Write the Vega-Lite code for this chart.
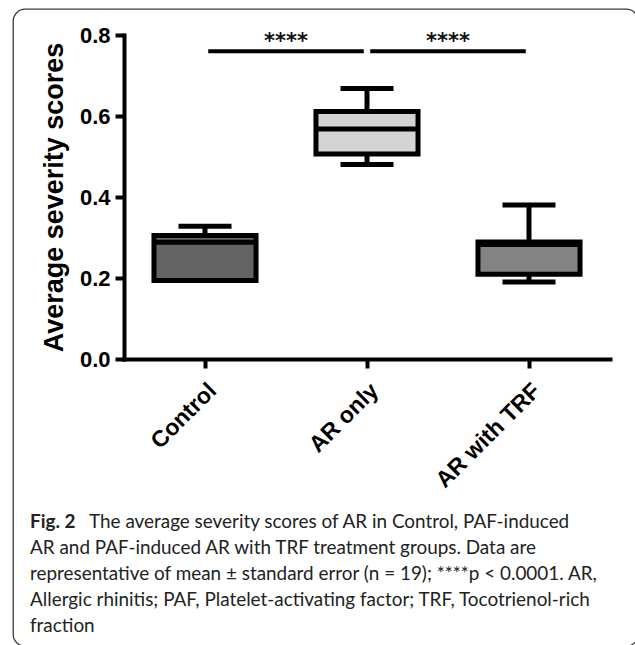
{
  "$schema": "https://vega.github.io/schema/vega-lite/v6.json",
  "width": 625,
  "height": 637,
  "autosize": "none",
  "padding": {"left": 13, "top": 9, "right": 0, "bottom": 0},
  "background": "white",
  "config": {
    "view": {"stroke": "#3a3a3a", "strokeWidth": 1.3, "cornerRadius": 12},
    "font": "Liberation Sans",
    "axis": {"grid": false, "domainColor": "black", "tickColor": "black", "labelColor": "black", "titleColor": "black", "labelFont": "Liberation Sans", "labelFontWeight": "bold", "titleFont": "Liberation Sans", "titleFontWeight": "bold"},
    "axisY": {"offset": -111, "domainWidth": 4, "tickWidth": 4, "tickSize": 9, "labelPadding": 5, "labelFontSize": 22, "titleFontSize": 27, "titlePadding": 11, "domainCap": "square"},
    "axisX": {"offset": -287, "domainWidth": 4, "tickWidth": 4, "tickSize": 9, "labelPadding": 11, "labelFontSize": 23, "labelAngle": -45, "labelAlign": "right", "labelBaseline": "top", "domainCap": "square"}
  },
  "title": {
    "text": "Fig. 2",
    "subtitle": [
      "\u200b\u2003\u2003\u2003\u2003\u2009The average severity scores of AR in Control, PAF-induced",
      "AR and PAF-induced AR with TRF treatment groups. Data are",
      "representative of mean ± standard error (n = 19); ****p < 0.0001. AR,",
      "Allergic rhinitis; PAF, Platelet-activating factor; TRF, Tocotrienol-rich",
      "fraction"
    ],
    "orient": "bottom",
    "anchor": "start",
    "frame": "group",
    "align": "left",
    "offset": -133,
    "dx": 17,
    "font": "Lato",
    "fontSize": 18.9,
    "fontWeight": "bold",
    "color": "#222222",
    "subtitleFont": "Lato",
    "subtitleFontSize": 18.9,
    "subtitleFontWeight": "normal",
    "subtitleColor": "#222222",
    "subtitleLineHeight": 26,
    "subtitlePadding": -18.9
  },
  "datasets": {
    "boxes": [
      {"group": "Control", "lo": 0.194, "q1": 0.194, "med": 0.288, "q3": 0.305, "hi": 0.328},
      {"group": "AR only", "lo": 0.48, "q1": 0.506, "med": 0.568, "q3": 0.611, "hi": 0.668},
      {"group": "AR with TRF", "lo": 0.19, "q1": 0.209, "med": 0.283, "q3": 0.289, "hi": 0.38}
    ],
    "sig": [
      {"from": "Control", "to": "AR only", "level": 0.76, "starLevel": 0.767, "label": "****"},
      {"from": "AR only", "to": "AR with TRF", "level": 0.76, "starLevel": 0.767, "label": "****"}
    ]
  },
  "layer": [
    {
      "data": {"name": "boxes"},
      "mark": {"type": "rule", "color": "black", "strokeWidth": 5},
      "encoding": {
        "x": {"field": "group", "type": "nominal", "title": null, "scale": {"domain": ["Control", "AR only", "AR with TRF"], "range": [111, 597], "paddingInner": 0, "paddingOuter": 0}},
        "y": {"field": "lo", "type": "quantitative", "title": "Average severity scores", "scale": {"domain": [0, 0.8], "range": [350, 26], "nice": false}, "axis": {"values": [0, 0.2, 0.4, 0.6, 0.8], "format": ".1f"}},
        "y2": {"field": "hi"}
      }
    },
    {
      "data": {"name": "boxes"},
      "mark": {"type": "bar", "stroke": "black", "strokeWidth": 5, "width": {"band": 0.63}},
      "encoding": {
        "x": {"field": "group", "type": "nominal", "title": null},
        "y": {"field": "q1", "type": "quantitative", "title": "Average severity scores"},
        "y2": {"field": "q3"},
        "fill": {"field": "group", "type": "nominal", "legend": null, "scale": {"domain": ["Control", "AR only", "AR with TRF"], "range": ["#646464", "#d4d4d4", "#838383"]}}
      }
    },
    {
      "data": {"name": "boxes"},
      "mark": {"type": "tick", "color": "black", "thickness": 5, "size": 104, "opacity": 1},
      "encoding": {
        "x": {"field": "group", "type": "nominal", "title": null},
        "y": {"field": "med", "type": "quantitative", "title": "Average severity scores"}
      }
    },
    {
      "data": {"name": "boxes"},
      "mark": {"type": "tick", "color": "black", "thickness": 5, "size": 53, "opacity": 1},
      "encoding": {
        "x": {"field": "group", "type": "nominal", "title": null},
        "y": {"field": "lo", "type": "quantitative", "title": "Average severity scores"}
      }
    },
    {
      "data": {"name": "boxes"},
      "mark": {"type": "tick", "color": "black", "thickness": 5, "size": 53, "opacity": 1},
      "encoding": {
        "x": {"field": "group", "type": "nominal", "title": null},
        "y": {"field": "hi", "type": "quantitative", "title": "Average severity scores"}
      }
    },
    {
      "data": {"name": "sig"},
      "mark": {"type": "rule", "color": "black", "strokeWidth": 4},
      "encoding": {
        "x": {"field": "from", "type": "nominal", "title": null, "bandPosition": 0.52},
        "x2": {"field": "to", "bandPosition": 0.48},
        "y": {"field": "level", "type": "quantitative", "title": "Average severity scores"}
      }
    },
    {
      "data": {"name": "sig"},
      "mark": {"type": "text", "font": "DejaVu Sans", "fontWeight": "bold", "fontSize": 21, "color": "#111111", "align": "center", "baseline": "alphabetic"},
      "encoding": {
        "x": {"field": "from", "type": "nominal", "title": null, "bandPosition": 1},
        "y": {"field": "starLevel", "type": "quantitative", "title": "Average severity scores"},
        "text": {"field": "label"}
      }
    }
  ]
}
